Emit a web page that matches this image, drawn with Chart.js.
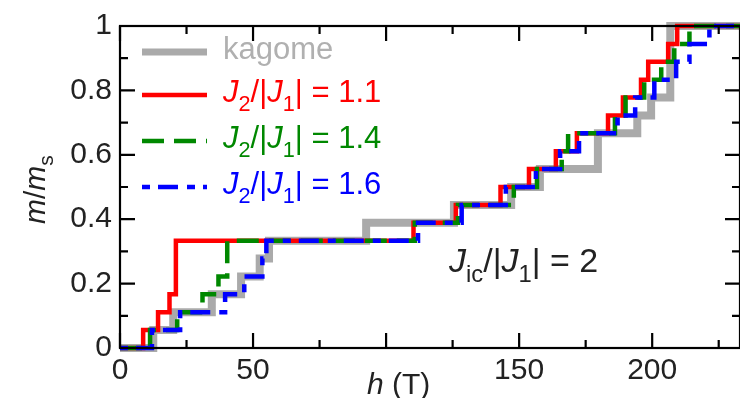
<!DOCTYPE html>
<html>
<head>
<meta charset="utf-8">
<script src="https://cdn.jsdelivr.net/npm/chart.js@4"></script>
<style>
  html, body { margin: 0; padding: 0; background: #fff; }
  #wrap { width: 740px; height: 398px; position: relative; }
</style>
</head>
<body>
<div id="wrap"><canvas id="chart"></canvas></div>
<script>
// step positions h (T) and plateau values m/ms
const hKagome = [0, 12.5, 20, 34.5, 45.5, 52.5, 56, 92.5, 125.5, 147, 157.8, 179.6, 194.4, 199.6, 206.8, 233];
const mKagome = [0, 0.056, 0.111, 0.167, 0.222, 0.278, 0.333, 0.389, 0.444, 0.5, 0.556, 0.667, 0.722, 0.778, 1, 1];

const hRed = [0, 8.7, 14.3, 18.6, 21, 110.3, 126.2, 143, 153.7, 163.8, 171.7, 183.4, 189, 195.8, 198.5, 206, 209.4, 233];
const mRed = [0, 0.056, 0.111, 0.167, 0.333, 0.389, 0.444, 0.5, 0.556, 0.611, 0.667, 0.722, 0.778, 0.833, 0.889, 0.944, 1, 1];

const hGreen = [0, 11.3, 21.5, 31, 37, 40.3, 110.8, 127, 148, 156.7, 166, 168.4, 186, 190, 197, 203.4, 208.3, 214, 233];
const mGreen = [0, 0.056, 0.111, 0.167, 0.222, 0.333, 0.389, 0.444, 0.5, 0.556, 0.611, 0.667, 0.722, 0.778, 0.833, 0.889, 0.944, 1, 1];

const hBlue = [0, 12, 22.6, 39.5, 46.7, 53.5, 55, 112, 128.4, 145, 156.3, 165.4, 172.5, 187, 193.6, 200.8, 209, 214, 221.5, 233];
const mBlue = [0, 0.056, 0.111, 0.167, 0.222, 0.278, 0.333, 0.389, 0.444, 0.5, 0.556, 0.611, 0.667, 0.722, 0.778, 0.833, 0.889, 0.944, 1, 1];

const seriesNames = ["kagome", "1.1", "1.4", "1.6"];
const xLabelTicks = [0, 50, 150, 200];
const yLabelTicks = [0, 0.2, 0.4, 0.6, 0.8, 1];

const FONT = '"Liberation Sans", Arial, sans-serif';

const pts = (hs, ms) => hs.map((h, i) => ({ x: h, y: ms[i] }));

function richText(ctx, x, y, runs, size, color) {
  ctx.fillStyle = color;
  ctx.textAlign = "left";
  ctx.textBaseline = "alphabetic";
  for (const r of runs) {
    const s = r.sub ? size * 0.7 : size;
    ctx.font = (r.it ? "italic " : "") + s + "px " + FONT;
    ctx.fillText(r.t, x, y + (r.sub ? size * 0.28 : 0));
    x += ctx.measureText(r.t).width;
  }
  return x;
}

const jRuns = (v) => [
  { t: "J", it: true }, { t: "2", sub: true }, { t: "/|" },
  { t: "J", it: true }, { t: "1", sub: true }, { t: "| = " + v }
];

const decor = {
  id: "decor",
  afterDraw(chart) {
    const ctx = chart.ctx;
    const { left, right, top, bottom } = chart.chartArea;
    const xs = chart.scales.x, ys = chart.scales.y;
    ctx.save();
    ctx.strokeStyle = "#000";
    ctx.lineWidth = 2.2;
    ctx.lineCap = "butt";
    ctx.strokeRect(left, top, right - left, bottom - top);
    // inward ticks on all four sides
    ctx.beginPath();
    xs.ticks.forEach(t => {
      const px = xs.getPixelForValue(t.value);
      const len = t.value % 50 === 0 ? 15 : 8;
      ctx.moveTo(px, bottom); ctx.lineTo(px, bottom - len);
      ctx.moveTo(px, top); ctx.lineTo(px, top + len);
    });
    ys.ticks.forEach(t => {
      const py = ys.getPixelForValue(t.value);
      const len = Math.round(t.value * 10) % 2 === 0 ? 15 : 8;
      ctx.moveTo(left, py); ctx.lineTo(left + len, py);
      ctx.moveTo(right, py); ctx.lineTo(right - len, py);
    });
    ctx.stroke();

    // legend
    const items = [
      { y: 52, color: "#aaaaaa", w: 7, dash: [], text: [{ t: "kagome" }], tc: "#b0b0b0", base: 59 },
      { y: 95, color: "#ff0000", w: 4.5, dash: [], text: jRuns(seriesNames[1]), tc: "#ff0000", base: 102 },
      { y: 141, color: "#008800", w: 4.5, dash: [22, 10], text: jRuns(seriesNames[2]), tc: "#008800", base: 148 },
      { y: 187, color: "#0000ff", w: 4.5, dash: [8, 8, 20, 9], text: jRuns(seriesNames[3]), tc: "#0000ff", base: 194 }
    ];
    items.forEach(it => {
      ctx.beginPath();
      ctx.strokeStyle = it.color;
      ctx.lineWidth = it.w;
      ctx.setLineDash(it.dash);
      ctx.moveTo(142, it.y); ctx.lineTo(207, it.y);
      ctx.stroke();
      ctx.setLineDash([]);
      richText(ctx, 223, it.base, it.text, 31, it.tc);
    });

    // annotation
    richText(ctx, 449, 272, [
      { t: "J", it: true }, { t: "ic", sub: true }, { t: "/|" },
      { t: "J", it: true }, { t: "1", sub: true }, { t: "| = 2" }
    ], 34, "#222");

    // x axis title
    richText(ctx, 367, 394, [{ t: "h", it: true }, { t: " (T)" }], 30, "#222");

    // y axis title, rotated
    ctx.save();
    ctx.translate(45, 224);
    ctx.rotate(-Math.PI / 2);
    richText(ctx, 0, 0, [{ t: "m", it: true }, { t: "/" }, { t: "m", it: true }, { t: "s", sub: true }], 30, "#222");
    ctx.restore();
    ctx.restore();
  }
};

const base = { pointRadius: 0, fill: false, stepped: "before", clip: false, borderJoinStyle: "miter", borderCapStyle: "butt" };

new Chart(document.getElementById("chart"), {
  type: "line",
  data: {
    datasets: [
      { ...base, label: seriesNames[0], data: pts(hKagome, mKagome), borderColor: "#aaaaaa", borderWidth: 8, order: 4 },
      { ...base, label: seriesNames[1], data: pts(hRed, mRed), borderColor: "#ff0000", borderWidth: 4.5, order: 3 },
      { ...base, label: seriesNames[2], data: pts(hGreen, mGreen), borderColor: "#008800", borderWidth: 4.5, borderDash: [22, 10], order: 2 },
      { ...base, label: seriesNames[3], data: pts(hBlue, mBlue), borderColor: "#0000ff", borderWidth: 4.5, borderDash: [8, 8, 20, 9], order: 1 }
    ]
  },
  options: {
    responsive: true,
    maintainAspectRatio: false,
    animation: false,
    events: [],
    layout: { padding: { top: 20, right: 0, left: 0, bottom: 0 } },
    plugins: { legend: { display: false }, tooltip: { enabled: false } },
    scales: {
      x: {
        type: "linear",
        min: 0, max: 233,
        grid: { display: false, drawTicks: false },
        border: { display: false },
        afterFit: s => { s.height = 50; },
        ticks: {
          stepSize: 25, includeBounds: false, padding: 5, maxRotation: 0, autoSkip: false,
          color: "#222", font: { family: FONT, size: 30 },
          callback: v => xLabelTicks.includes(v) ? String(v) : ""
        }
      },
      y: {
        min: 0, max: 1,
        grid: { display: false, drawTicks: false },
        border: { display: false },
        afterFit: s => { s.width = 120; },
        ticks: {
          stepSize: 0.1, padding: 8, autoSkip: false,
          color: "#222", font: { family: FONT, size: 30 },
          callback: v => {
            const r = Math.round(v * 10) / 10;
            return yLabelTicks.includes(r) ? String(r) : "";
          }
        }
      }
    }
  },
  plugins: [decor]
});
</script>
</body>
</html>
